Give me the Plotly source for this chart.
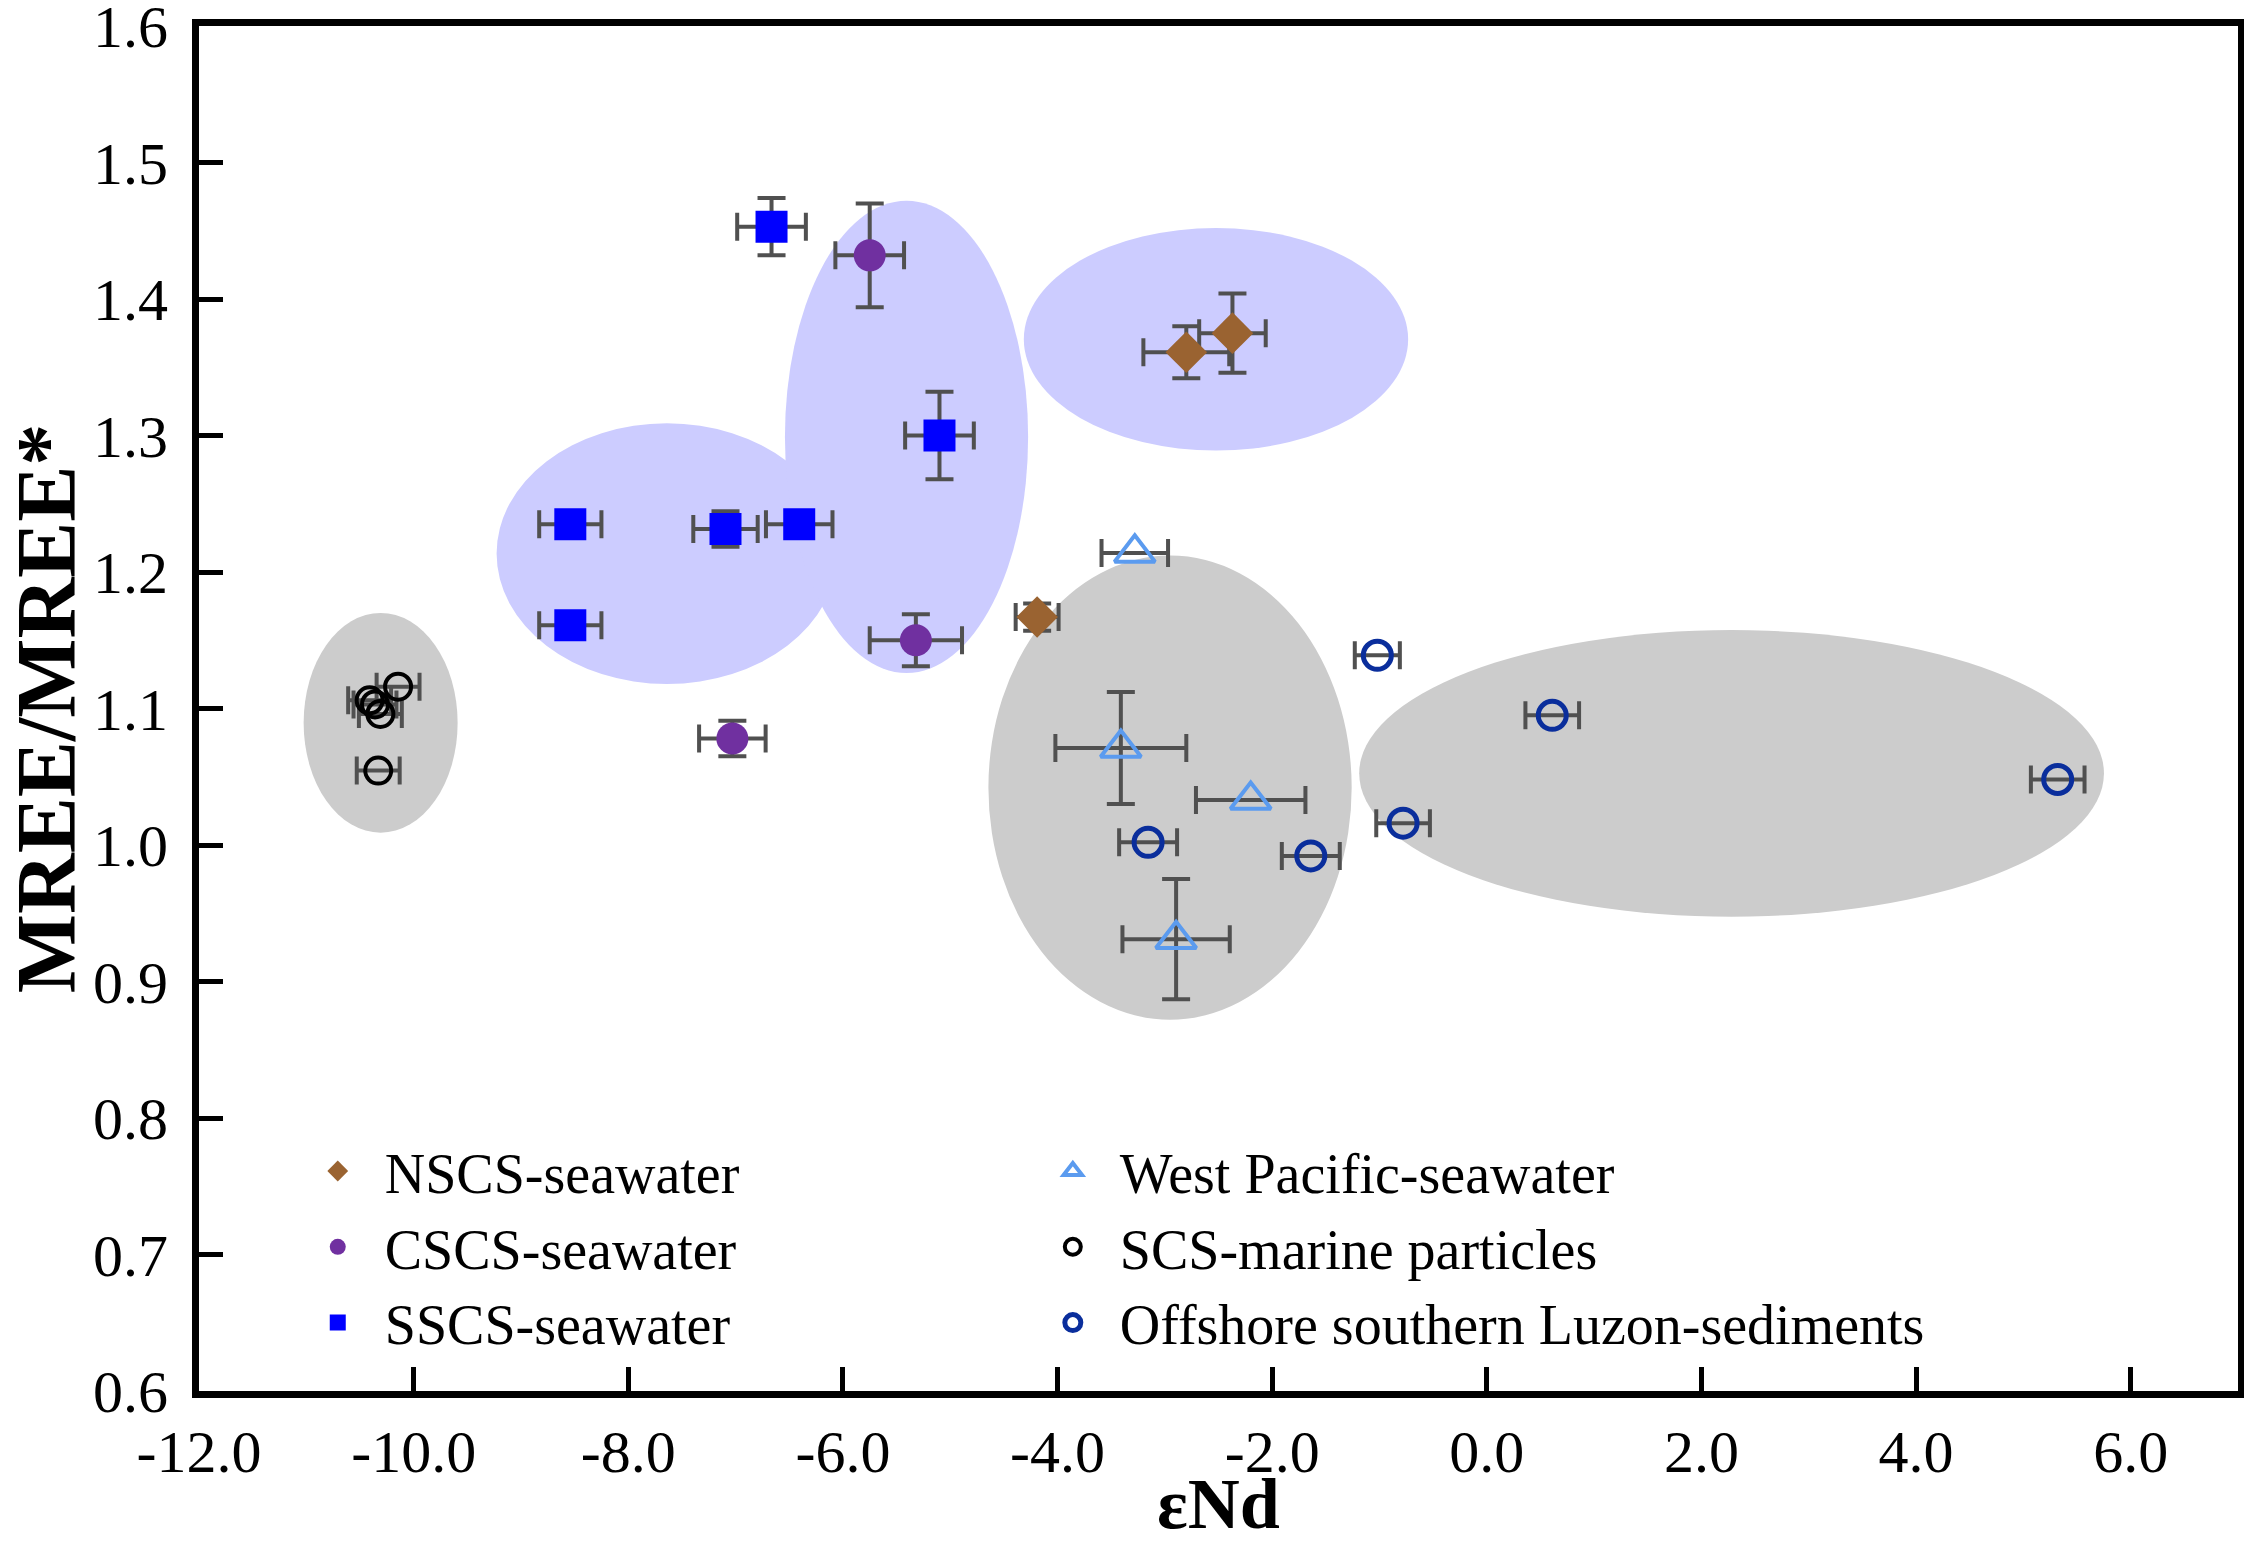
import plotly.graph_objects as go

# ---------------- data ----------------
nscs_x = [-2.80, -2.37, -4.19]
nscs_y = [1.361, 1.375, 1.167]
nscs_xerr = [0.40, 0.31, 0.20]
nscs_yerr = [0.019, 0.029, 0.010]

cscs_x = [-5.75, -5.32, -7.03]
cscs_y = [1.432, 1.150, 1.078]
cscs_xerr = [0.32, 0.43, 0.31]
cscs_yerr = [0.038, 0.019, 0.013]

sscs_x = [-6.665, -5.10, -8.54, -7.094, -6.407, -8.54]
sscs_y = [1.453, 1.300, 1.235, 1.2315, 1.235, 1.161]
sscs_xerr = [0.32, 0.32, 0.29, 0.30, 0.31, 0.29]
sscs_yerr = [0.021, 0.032, 0.008, 0.013, 0.008, 0.006]

wp_x = [-3.28, -3.41, -2.20, -2.895]
wp_y = [1.214, 1.071, 1.033, 0.931]
wp_xerr = [0.31, 0.61, 0.51, 0.50]
wp_yerr = [0.0, 0.041, 0.0, 0.044]

part_x = [-10.33, -10.145, -10.41, -10.36, -10.31]
part_y = [1.0545, 1.116, 1.106, 1.103, 1.096]
part_xerr = [0.20, 0.20, 0.20, 0.20, 0.20]

luz_x = [-1.02, 0.61, 5.32, -0.78, -3.156, -1.64]
luz_y = [1.139, 1.095, 1.048, 1.016, 1.002, 0.992]
luz_xerr = [0.21, 0.25, 0.25, 0.25, 0.27, 0.27]

# grouping ellipses: (x0, x1, y0, y1, colour)
ellipses = [
    (-11.025, -9.59, 1.009, 1.170, "#cccccc"),
    (-9.227, -6.053, 1.118, 1.309, "#ccccff"),
    (-6.54, -4.274, 1.126, 1.472, "#ccccff"),
    (-4.314, -0.733, 1.289, 1.452, "#ccccff"),
    (-4.644, -1.259, 0.872, 1.212, "#cccccc"),
    (-1.189, 5.751, 0.9475, 1.1575, "#cccccc"),
]

x_ticks = [-12, -10, -8, -6, -4, -2, 0, 2, 4, 6]
x_ticklabels = ["-12.0", "-10.0", "-8.0", "-6.0", "-4.0", "-2.0", "0.0", "2.0", "4.0", "6.0"]
y_ticks = [0.6, 0.7, 0.8, 0.9, 1.0, 1.1, 1.2, 1.3, 1.4, 1.5, 1.6]
y_ticklabels = ["0.6", "0.7", "0.8", "0.9", "1.0", "1.1", "1.2", "1.3", "1.4", "1.5", "1.6"]

FONT = "Liberation Serif, Times New Roman, serif"
ERR_COLOR = "#505050"

def err(arr):
    return dict(type="data", array=arr, visible=True, color=ERR_COLOR, thickness=4, width=14)

fig = go.Figure()

fig.add_trace(go.Scatter(
    x=nscs_x, y=nscs_y, mode="markers", name="NSCS-seawater",
    marker=dict(symbol="diamond", size=32, color="#9a6331"),
    error_x=err(nscs_xerr), error_y=err(nscs_yerr), legend="legend"))
fig.add_trace(go.Scatter(
    x=cscs_x, y=cscs_y, mode="markers", name="CSCS-seawater",
    marker=dict(symbol="circle", size=32, color="#7030a0"),
    error_x=err(cscs_xerr), error_y=err(cscs_yerr), legend="legend"))
fig.add_trace(go.Scatter(
    x=sscs_x, y=sscs_y, mode="markers", name="SSCS-seawater",
    marker=dict(symbol="square", size=32, color="#0000ff"),
    error_x=err(sscs_xerr), error_y=err(sscs_yerr), legend="legend"))
fig.add_trace(go.Scatter(
    x=wp_x, y=wp_y, mode="markers", name="West Pacific-seawater",
    marker=dict(symbol="triangle-up-open", size=35, color="#5b9bef", line=dict(width=4)),
    error_x=err(wp_xerr), error_y=err(wp_yerr), legend="legend2"))
fig.add_trace(go.Scatter(
    x=part_x, y=part_y, mode="markers", name="SCS-marine particles",
    marker=dict(symbol="circle-open", size=26, color="#000000", line=dict(width=4)),
    error_x=err(part_xerr), legend="legend2"))
fig.add_trace(go.Scatter(
    x=luz_x, y=luz_y, mode="markers", name="Offshore southern Luzon-sediments",
    marker=dict(symbol="circle-open", size=28, color="#0a2e9c", line=dict(width=5)),
    error_x=err(luz_xerr), legend="legend2"))

for x0, x1, y0, y1, c in ellipses:
    fig.add_shape(type="circle", xref="x", yref="y", x0=x0, x1=x1, y0=y0, y1=y1,
                  fillcolor=c, line=dict(width=0), layer="below")

legend_common = dict(
    font=dict(family=FONT, size=56, color="black"),
    bgcolor="rgba(0,0,0,0)", borderwidth=0,
    itemwidth=84, tracegroupgap=0,
    xanchor="left", yanchor="top",
)

fig.update_layout(
    width=2244, height=1544,
    margin=dict(l=199, r=6, t=26, b=153, autoexpand=False),
    paper_bgcolor="white", plot_bgcolor="white",
    font=dict(family=FONT, color="black"),
    showlegend=True,
    legend=dict(x=0.045, y=0.1926, **legend_common),
    legend2=dict(x=0.4055, y=0.1926, **legend_common),
    xaxis=dict(
        range=[-12, 7], tickmode="array", tickvals=x_ticks, ticktext=x_ticklabels,
        ticks="inside", ticklen=24, tickwidth=5, tickcolor="black",
        showline=True, linewidth=7, linecolor="black", mirror=True,
        showgrid=False, zeroline=False, automargin=True,
        tickfont=dict(family=FONT, size=60, color="black"),
        ticklabelstandoff=2, ticklabeloverflow="allow",
        title=dict(text="<b>εNd</b>", font=dict(family=FONT, size=72, color="black"), standoff=9),
    ),
    yaxis=dict(
        range=[0.6, 1.6], tickmode="array", tickvals=y_ticks, ticktext=y_ticklabels,
        ticks="inside", ticklen=24, tickwidth=5, tickcolor="black",
        showline=True, linewidth=7, linecolor="black", mirror=True,
        showgrid=False, zeroline=False, automargin=True,
        tickfont=dict(family=FONT, size=60, color="black"),
        ticklabelstandoff=12, ticklabeloverflow="allow",
        title=dict(text="<b>MREE/MREE*</b>", font=dict(family=FONT, size=84, color="black"), standoff=13),
    ),
)

fig.write_html("out.html", config={"displayModeBar": False},
               post_script="document.body.style.margin='0';document.body.style.overflow='hidden';")
